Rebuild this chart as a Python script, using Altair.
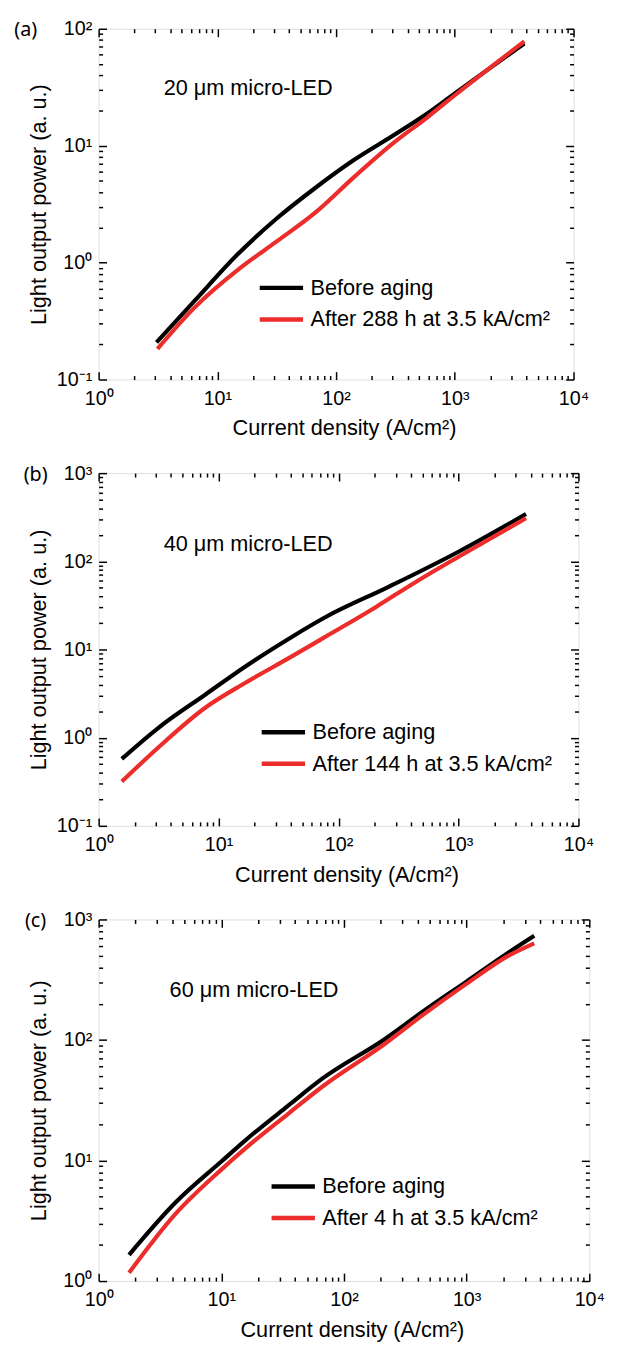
import altair as alt
import pandas as pd

# ---------------- data ----------------
# Panel (a) 20 um micro-LED
J_A_BEFORE = [3.07, 6.39, 14.6, 31.4, 67.5, 140, 322, 634, 1000, 3850]
P_A_BEFORE = [0.208, 0.468, 1.16, 2.37, 4.39, 7.5, 12.7, 19.9, 28.0, 74.8]
J_A_AFTER = [3.13, 6.39, 15.6, 31.4, 67.5, 140, 299, 588, 1000, 3850]
P_A_AFTER = [0.183, 0.41, 0.90, 1.51, 2.70, 5.33, 10.4, 17.5, 27.0, 78.0]

# Panel (b) 40 um micro-LED
J_B_BEFORE = [1.56, 3.21, 7.78, 16.6, 40.1, 80.2, 259, 1028, 3655]
P_B_BEFORE = [0.575, 1.32, 3.09, 6.38, 13.7, 23.8, 51, 131, 344]
J_B_AFTER = [1.56, 3.21, 7.78, 16.6, 40.1, 80.2, 207, 437, 1028, 3655]
P_B_AFTER = [0.318, 0.795, 2.2, 4.17, 8.24, 14.3, 30.6, 58, 115, 308]

# Panel (c) 60 um micro-LED
J_C_BEFORE = [1.77, 4.23, 10, 15.7, 34.9, 67.3, 216, 446, 995, 2215, 3556]
P_C_BEFORE = [1.65, 4.48, 9.8, 14.7, 28.4, 48.2, 102, 174, 305, 535, 732]
J_C_AFTER = [1.77, 4.23, 10, 15.7, 34.9, 67.3, 216, 446, 995, 2215, 3556]
P_C_AFTER = [1.17, 3.6, 8.4, 12.6, 24.3, 41.3, 93, 163, 292, 503, 634]

BEFORE = "Before aging"
AFTER_A = "After 288 h at 3.5 kA/cm²"
AFTER_B = "After 144 h at 3.5 kA/cm²"
AFTER_C = "After 4 h at 3.5 kA/cm²"
NOTES = ["20 μm micro-LED", "40 μm micro-LED", "60 μm micro-LED"]
TAGS = ["(a)", "(b)", "(c)"]

X_DOMAIN = [1, 10000]
X_MAJOR = [1, 10, 100, 1000, 10000]
Y_DOM_A = [0.1, 100]
Y_DOM_B = [0.1, 1000]
Y_DOM_C = [1, 1000]

BLACK = "#000000"
RED = "#ec2d2b"
FONT = "Liberation Sans"

LABEL_EXPR = ("datum.value < 0.5 ? '10⁻¹' : datum.value < 5 ? '10⁰' : "
              "datum.value < 50 ? '10¹' : datum.value < 500 ? '10²' : "
              "datum.value < 5000 ? '10³' : '10⁴'")


def minors(majors):
    out = []
    for m in majors[:-1]:
        for k in range(2, 10):
            out.append(round(m * k, 6))
    return out


def decades(lo, hi):
    vals = []
    v = lo
    while v <= hi * 1.0001:
        vals.append(v)
        v = round(v * 10, 6)
    return vals


def panel(jb, pb, ja, pa, after_label, note, tag, ydom, w, h,
          legx, legy, tagx, tagy, notex, notey):
    df = pd.concat([
        pd.DataFrame({"j": jb, "p": pb, "series": BEFORE}),
        pd.DataFrame({"j": ja, "p": pa, "series": after_label}),
    ], ignore_index=True)
    ymaj = decades(ydom[0], ydom[1])
    xmin = minors(X_MAJOR)
    ymin = minors(ymaj)
    xs = alt.Scale(type="log", domain=X_DOMAIN, nice=False)
    ys = alt.Scale(type="log", domain=ydom, nice=False)
    base = alt.Chart(df)

    lines = base.mark_line(strokeWidth=4.2, interpolate="monotone").encode(
        x=alt.X("j:Q", scale=xs, axis=alt.Axis(
            values=X_MAJOR, labelExpr=LABEL_EXPR, orient="bottom",
            ticks=False, tickSize=0, domain=False, grid=False,
            labelFontSize=20, labelFont=FONT, labelColor="black",
            labelPadding=9, labelFlush=False, labelOverlap=False,
            title="Current density (A/cm²)", titleFont=FONT,
            titleFontSize=22, titleFontWeight="normal", titleColor="black",
            titleX=w / 2 + 8, titleY=49, titleBaseline="middle")),
        y=alt.Y("p:Q", scale=ys, axis=alt.Axis(
            values=ymaj, labelExpr=LABEL_EXPR, orient="left",
            ticks=False, tickSize=0, domain=False, grid=False,
            labelFontSize=20, labelFont=FONT, labelColor="black",
            labelPadding=7, labelFlush=False, labelOverlap=False,
            title="Light output power (a. u.)", titleFont=FONT,
            titleFontSize=22, titleFontWeight="normal", titleColor="black",
            titleX=-61, titleY=h / 2, titleBaseline="middle")),
        color=alt.Color("series:N", scale=alt.Scale(
            domain=[BEFORE, after_label], range=[BLACK, RED]),
            legend=alt.Legend(
                orient="none", legendX=legx, legendY=legy, title=None,
                symbolType="stroke", symbolSize=1936, symbolStrokeWidth=4.5,
                labelFont=FONT, labelFontSize=22, labelColor="black",
                labelLimit=400, labelOffset=5, clipHeight=30,
                rowPadding=2, padding=0)),
    )

    def tick_layer(xo, yo, xv, yv, size):
        return base.mark_point(opacity=0).encode(
            x=alt.X("j:Q", scale=xs, axis=alt.Axis(
                values=xv, orient=xo, offset=-size, tickSize=size,
                tickWidth=1.5, tickColor="black", labels=False,
                domain=False, grid=False, title=None)),
            y=alt.Y("p:Q", scale=ys, axis=alt.Axis(
                values=yv, orient=yo, offset=-size, tickSize=size,
                tickWidth=1.5, tickColor="black", labels=False,
                domain=False, grid=False, title=None)),
        )

    t1 = tick_layer("bottom", "left", X_MAJOR, ymaj, 8)
    t2 = tick_layer("bottom", "left", xmin, ymin, 4)
    t3 = tick_layer("top", "right", X_MAJOR, ymaj, 8)
    t4 = tick_layer("top", "right", xmin, ymin, 4)

    tag_t = alt.Chart(pd.DataFrame({"t": [tag]})).mark_text(
        font="Noto Sans", fontSize=20, align="center", baseline="middle",
        color="black").encode(
        text="t:N", x=alt.value(tagx), y=alt.value(tagy))
    note_t = alt.Chart(pd.DataFrame({"t": [note]})).mark_text(
        font=FONT, fontSize=22, align="left", baseline="middle",
        color="black").encode(
        text="t:N", x=alt.value(notex), y=alt.value(notey))

    return alt.layer(lines, t1, t2, t3, t4, tag_t, note_t).resolve_axis(
        x="independent", y="independent").properties(width=w, height=h)


pa = panel(J_A_BEFORE, P_A_BEFORE, J_A_AFTER, P_A_AFTER, AFTER_A,
           NOTES[0], TAGS[0], Y_DOM_A, 482, 356, 161, 248, -74, 1, 66, 60)
pb = panel(J_B_BEFORE, P_B_BEFORE, J_B_AFTER, P_B_AFTER, AFTER_B,
           NOTES[1], TAGS[1], Y_DOM_B, 487, 358, 163, 248, -64, 2, 66, 72)
pc = panel(J_C_BEFORE, P_C_BEFORE, J_C_AFTER, P_C_AFTER, AFTER_C,
           NOTES[2], TAGS[2], Y_DOM_C, 498, 367, 173, 256, -64, 2, 72, 72)

chart = alt.vconcat(pa, pb, pc, spacing=95, bounds="flush").resolve_scale(
    x="independent", y="independent", color="independent"
).properties(
    padding={"left": 5, "top": 0, "right": 5, "bottom": 5}
).configure_view(
    stroke="black", strokeWidth=2
).configure(background="white")

chart.save("out.html", embed_options={"renderer": "svg", "actions": False})
